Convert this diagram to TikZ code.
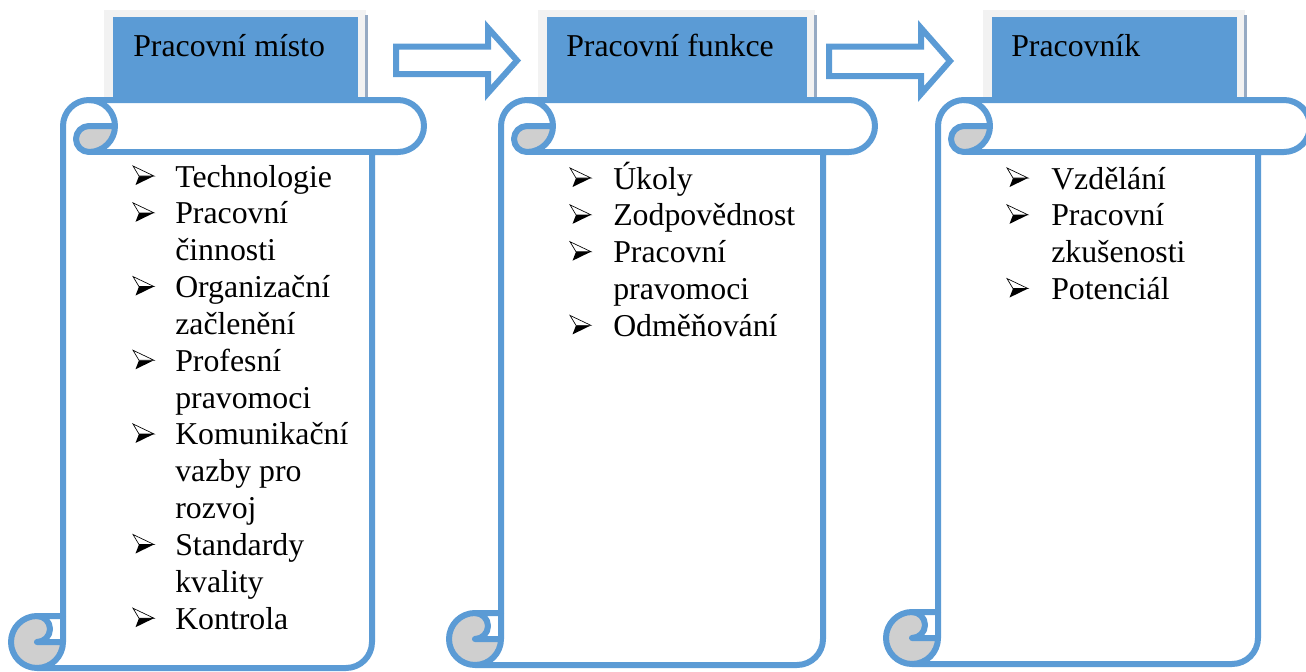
\documentclass[tikz,border=0pt]{standalone}
\usepackage{fontspec}
\setmainfont{Liberation Serif}
\definecolor{scrollblue}{HTML}{5B9BD5}
\definecolor{labelgray}{HTML}{F2F2F2}
\definecolor{curlgray}{HTML}{CFCFCF}
\definecolor{edgegray}{RGB}{150,170,195}
\tikzset{
  outline/.style={draw=scrollblue, line width=4.5pt, line join=round},
  blockarrow/.style={draw=scrollblue, fill=white, line width=4.5pt, line join=miter},
  itemtext/.style={anchor=base west, inner sep=0pt, font=\fontsize{23.85}{27}\selectfont},
  labeltext/.style={anchor=base west, inner sep=0pt, font=\fontsize{23.85}{27}\selectfont},
}
\newcommand\drawscroll[5]{%
  \pgfmathsetmacro\scL{#1}\pgfmathsetmacro\scT{#2}\pgfmathsetmacro\scR{#3}%
  \pgfmathsetmacro\scB{#4}\pgfmathsetmacro\scH{#5}%
  \pgfmathsetmacro\scHh{\scH/2}\pgfmathsetmacro\scHq{\scH/4}%
  \pgfmathsetmacro\scX{\scL+\scH}\pgfmathsetmacro\scXc{\scL+\scHh}%
  \pgfmathsetmacro\scXiii{\scL+1.5*\scH}\pgfmathsetmacro\scXiv{\scL+2*\scH}%
  \pgfmathsetmacro\scXvi{\scR-\scH}\pgfmathsetmacro\scXvii{\scR-\scHh}%
  \pgfmathsetmacro\scYiii{\scB-\scH}\pgfmathsetmacro\scYiv{\scB-\scHh}%
  \pgfmathsetmacro\scYm{\scT+\scHh}\pgfmathsetmacro\scYc{\scT+\scH}%
  % white body
  \fill[white] (\scX,\scYiii) -- (\scX,\scYm) arc[start angle=180, delta angle=90, radius=\scHh]
    -- (\scXvii,\scT) arc[start angle=270, delta angle=180, radius=\scHh]
    -- (\scXvi,\scYc) -- (\scXvi,\scYiv) arc[start angle=0, delta angle=90, radius=\scHh]
    -- (\scXc,\scB) arc[start angle=90, delta angle=180, radius=\scHh] -- cycle;
  % gray curl parts
  \fill[curlgray] (\scXiv,\scYm) arc[start angle=0, delta angle=90, radius=\scHh]
    arc[start angle=90, delta angle=180, radius=\scHq] -- cycle;
  \fill[curlgray] (\scXc,\scYiii) arc[start angle=270, delta angle=-270, radius=\scHh]
    -- (\scXc,\scYiv) arc[start angle=90, delta angle=-180, radius=\scHq] -- cycle;
  % outlines
  \draw[outline] (\scX,\scYiii) -- (\scX,\scYm) arc[start angle=180, delta angle=90, radius=\scHh]
    -- (\scXvii,\scT) arc[start angle=270, delta angle=180, radius=\scHh]
    -- (\scXvi,\scYc) -- (\scXvi,\scYiv) arc[start angle=0, delta angle=90, radius=\scHh]
    -- (\scXc,\scB) arc[start angle=90, delta angle=180, radius=\scHh] -- cycle;
  \draw[outline] (\scXiii,\scT) arc[start angle=270, delta angle=180, radius=\scHh]
    arc[start angle=90, delta angle=180, radius=\scHq] -- (\scXiv,\scYm);
  \draw[outline] (\scXvi,\scYc) -- (\scXiii,\scYc);
  \draw[outline] (\scXc,\scYiii) arc[start angle=270, delta angle=180, radius=\scHq] -- (\scX,\scYiv);
  \draw[outline] (\scXc,\scB) arc[start angle=90, delta angle=-90, radius=\scHh] -- (\scX,\scYiii);
}
\newcommand\drawlabelbox[2]{% left of gray, right of gray
  \fill[labelgray] (#1,10) rectangle (#2,110);
  \fill[edgegray] (#2-1,15) rectangle (#2+1.5,110);
  \fill[scrollblue] (#1+9,17) rectangle (#2-8,110);
}
\newcommand\mybullet[2]{% x, baseline
  \fill[black] (#1+6,#2-11) -- (#1+21,#2-11) -- (#1+2.5,#2-2) -- cycle;
  \draw[black, line width=0.5pt, fill=white, line join=miter] (#1,#2-21) -- (#1+21,#2-11) -- (#1+6,#2-11) -- cycle;
}
\begin{document}
\begin{tikzpicture}[x=0.75pt, y=-0.75pt]
\path[use as bounding box] (0,0) rectangle (1306,671);
\clip (0,0) rectangle (1306,671);
% label boxes
\drawlabelbox{104}{366}
\drawlabelbox{538}{815}
\drawlabelbox{983}{1245}
% block arrows
\draw[blockarrow] (396,46.5) -- (488,46.5) -- (488,28) -- (517,60.5) -- (488,93) -- (488,74) -- (396,74) -- cycle;
\draw[blockarrow] (829,46.5) -- (921,46.5) -- (921,28) -- (950,61) -- (921,94) -- (921,76) -- (829,76) -- cycle;
% scrolls
\drawscroll{11}{100}{424}{668}{52}
\drawscroll{449}{100}{875}{665}{52}
\drawscroll{886}{100}{1310}{664}{52}
% labels
\node[labeltext] (l1) at (133,56) {Pracovní místo};
\node[labeltext] (l2) at (566,56) {Pracovní funkce};
\node[labeltext] (l3) at (1011,56) {Pracovník};
% scroll 1 items
\foreach \i/\t in {0/Technologie,1/Pracovní,2/činnosti,3/Organizační,4/začlenění,5/Profesní,6/pravomoci,7/Komunikační,8/vazby pro,9/rozvoj,10/Standardy,11/kvality,12/Kontrola}{
  \node[itemtext] (a\i) at (175,187+36.85*\i) {\t};
}
\foreach \i in {0,1,3,5,7,10,12}{ \mybullet{133}{187+36.85*\i} }
% scroll 2 items
\foreach \i/\t in {0/Úkoly,1/Zodpovědnost,2/Pracovní,3/pravomoci,4/Odměňování}{
  \node[itemtext] (b\i) at (613,189+36.85*\i) {\t};
}
\foreach \i in {0,1,2,4}{ \mybullet{570}{189+36.85*\i} }
% scroll 3 items
\foreach \i/\t in {0/Vzdělání,1/Pracovní,2/zkušenosti,3/Potenciál}{
  \node[itemtext] (c\i) at (1051,189+36.85*\i) {\t};
}
\foreach \i in {0,1,3}{ \mybullet{1007}{189+36.85*\i} }
\end{tikzpicture}
\end{document}
